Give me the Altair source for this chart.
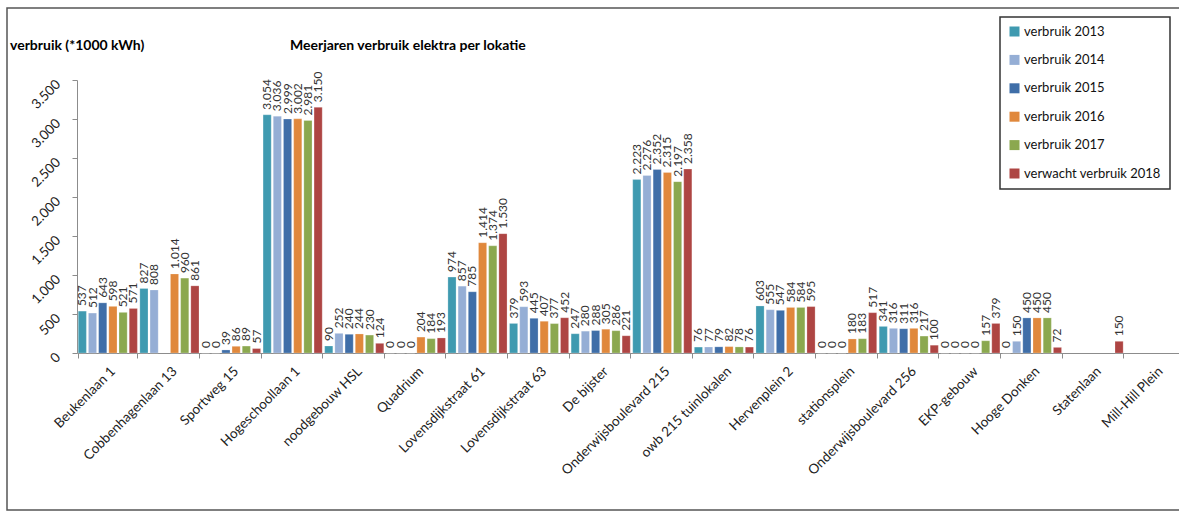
import altair as alt
import pandas as pd

categories = ["Beukenlaan 1", "Cobbenhagenlaan 13", "Sportweg 15", "Hogeschoollaan 1",
              "noodgebouw HSL", "Quadrium", "Lovensdijkstraat 61", "Lovensdijkstraat 63",
              "De bijster", "Onderwijsboulevard 215", "owb 215 tuinlokalen", "Hervenplein 2",
              "stationsplein", "Onderwijsboulevard 256", "EKP-gebouw", "Hooge Donken",
              "Statenlaan", "Mill-Hill Plein"]
series = ["verbruik 2013", "verbruik 2014", "verbruik 2015", " verbruik 2016",
          "verbruik 2017", "verwacht verbruik 2018"]
v2013 = [537, 827, 0, 3054, 90, 0, 974, 379, 247, 2223, 76, 603, 0, 341, 0, 0, None, None]
v2014 = [512, 808, 0, 3036, 252, 0, 857, 593, 280, 2276, 77, 555, 0, 316, 0, 150, None, None]
v2015 = [643, None, 39, 2999, 240, 0, 785, 445, 288, 2352, 79, 547, 0, 311, 0, 450, None, None]
v2016 = [598, 1014, 86, 3002, 244, 204, 1414, 407, 305, 2315, 82, 584, 180, 316, 0, 450, None, None]
v2017 = [521, 960, 89, 2981, 230, 184, 1374, 377, 286, 2197, 78, 584, 183, 217, 157, 450, None, None]
v2018 = [571, 861, 57, 3150, 124, 193, 1530, 452, 221, 2358, 76, 595, 517, 100, 379, 72, 150, None]
colors = ["#3F9AB0", "#95AED5", "#3F6EA8", "#E0883C", "#8BA84F", "#AE4543"]
y_ticks = [0, 500, 1000, 1500, 2000, 2500, 3000, 3500]

rows = []
for s, vals in zip(series, [v2013, v2014, v2015, v2016, v2017, v2018]):
    for c, v in zip(categories, vals):
        if v is None:
            continue
        rows.append({"loc": c, "serie": s, "value": v,
                     "lbl": f"{v:,}".replace(",", ".")})
df = pd.DataFrame(rows)

FONT = "Lato"
W, H = 1102, 273

x_enc = alt.X("loc:N", sort=categories,
              scale=alt.Scale(domain=categories, range=[0, 1109],
                              paddingInner=0.04, paddingOuter=0.02),
              axis=alt.Axis(title=None, labelAngle=-45, tickBand="extent",
                            labelFontSize=13.5, labelColor="#222", labelFont=FONT,
                            domainColor="#8c8c8c", tickColor="#8c8c8c", tickSize=5,
                            labelPadding=6, labelLimit=300, labelOverlap=False))
xo_enc = alt.XOffset("serie:N", sort=series,
                     scale=alt.Scale(domain=series, paddingInner=0.2))
y_enc = alt.Y("value:Q", scale=alt.Scale(domain=[0, 3500], nice=False),
              axis=alt.Axis(title=None, values=y_ticks, tickCount=8, grid=False,
                            labelAngle=-45,
                            labelExpr="replace(format(datum.value, ','), ',', '.')",
                            labelFontSize=13.5, labelColor="#222", labelFont=FONT,
                            domainColor="#8c8c8c", tickColor="#8c8c8c", tickSize=5,
                            labelPadding=14, labelOffset=2,
                            labelOverlap=False, labelBound=False))

bars = alt.Chart(df).mark_bar(stroke="#ffffff", strokeWidth=0.4, strokeOpacity=0.6).encode(
    x=x_enc, xOffset=xo_enc, y=y_enc,
    color=alt.Color("serie:N", sort=series,
                    scale=alt.Scale(domain=series, range=colors),
                    legend=alt.Legend(title=None, orient="none", legendX=931, legendY=-55,
                                      symbolType="square", symbolSize=100,
                                      symbolStrokeWidth=0, labelFont=FONT,
                                      labelFontSize=13, labelColor="#111",
                                      rowPadding=14.4, labelOffset=3, padding=0))
)

labels = alt.Chart(df).mark_text(angle=270, align="left", baseline="middle", dx=5,
                                 font=FONT, fontSize=12, color="#333").encode(
    x=x_enc, xOffset=xo_enc, y=y_enc, text="lbl:N")

one = alt.Data(values=[{"a": 1}])
title = alt.Chart(one).mark_text(text="Meerjaren verbruik elektra per lokatie",
                                 font=FONT, fontSize=14, fontWeight="bold",
                                 align="left", baseline="middle", color="#000").encode(
    x=alt.value(213), y=alt.value(-34))
ylab = alt.Chart(one).mark_text(text="verbruik (*1000 kWh)", font=FONT, fontSize=14,
                                fontWeight="bold", align="left", baseline="middle",
                                color="#000").encode(x=alt.value(-67), y=alt.value(-34))
frame = alt.Chart(one).mark_rect(fill=None, stroke="#555555", strokeWidth=1.5).encode(
    x=alt.value(-70), x2=alt.value(1130), y=alt.value(-72), y2=alt.value(430))
legbox = alt.Chart(one).mark_rect(fill=None, stroke="#333333", strokeWidth=1.5).encode(
    x=alt.value(923), x2=alt.value(1093), y=alt.value(-63), y2=alt.value(109))

chart = alt.layer(frame, bars, labels, title, ylab, legbox).properties(
    width=W, height=H,
    autosize=alt.AutoSizeParams(type="none"),
    padding={"left": 77, "top": 80, "right": 0, "bottom": 164},
    background="white",
).configure_view(stroke=None)

chart.save("out.html", embed_options={"renderer": "svg", "actions": False})
